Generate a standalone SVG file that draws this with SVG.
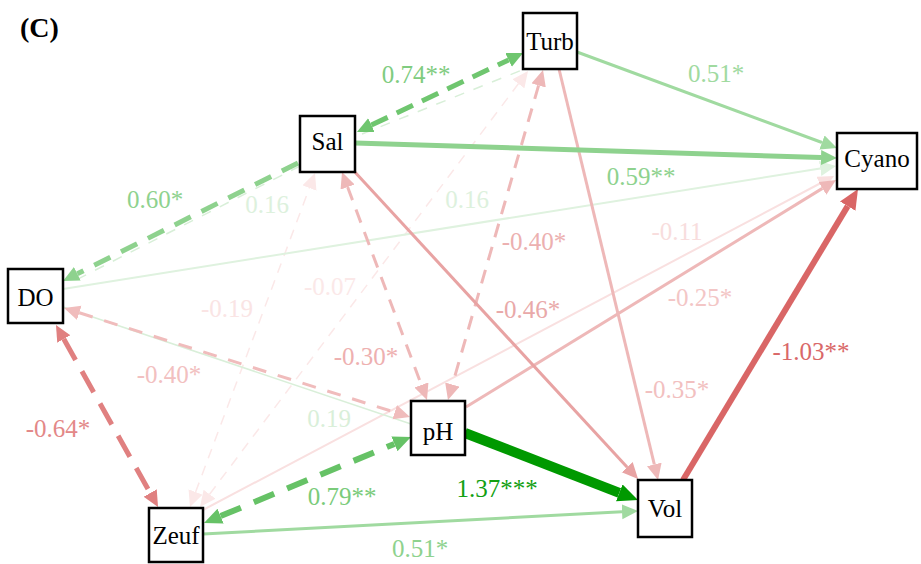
<svg xmlns="http://www.w3.org/2000/svg" width="921" height="564" viewBox="0 0 921 564">
<style>
.node rect{fill:#fff;stroke:#000;stroke-width:2.5}
.node text{font-size:25px;text-anchor:middle;fill:#000}
.lbl{font-size:25px;text-anchor:middle}
.e{fill:none;stroke-linecap:butt}
</style>
<defs>
<marker id="g1" markerUnits="userSpaceOnUse" markerWidth="17" markerHeight="16" refX="0" refY="7.5" orient="auto-start-reverse"><path d="M0,0L16,7.5L0,15z" fill="#6fc66f"/></marker>
<marker id="g2" markerUnits="userSpaceOnUse" markerWidth="17" markerHeight="16" refX="0" refY="7.5" orient="auto-start-reverse"><path d="M0,0L16,7.5L0,15z" fill="#8ed28e"/></marker>
<marker id="g3" markerUnits="userSpaceOnUse" markerWidth="17" markerHeight="16" refX="0" refY="7.5" orient="auto-start-reverse"><path d="M0,0L16,7.5L0,15z" fill="#a0daa0"/></marker>
<marker id="g4" markerUnits="userSpaceOnUse" markerWidth="17" markerHeight="16" refX="0" refY="7.5" orient="auto-start-reverse"><path d="M0,0L16,7.5L0,15z" fill="#dff2df"/></marker>
<marker id="g5" markerUnits="userSpaceOnUse" markerWidth="21" markerHeight="19" refX="0" refY="9" orient="auto-start-reverse"><path d="M0,0L20,9L0,18z" fill="#009900"/></marker>
<marker id="g6" markerUnits="userSpaceOnUse" markerWidth="19" markerHeight="17" refX="0" refY="8" orient="auto-start-reverse"><path d="M0,0L18,8L0,16z" fill="#66c266"/></marker>
<marker id="r1" markerUnits="userSpaceOnUse" markerWidth="21" markerHeight="19" refX="0" refY="9" orient="auto-start-reverse"><path d="M0,0L20,9L0,18z" fill="#d96666"/></marker>
<marker id="r2" markerUnits="userSpaceOnUse" markerWidth="17" markerHeight="16" refX="0" refY="7.5" orient="auto-start-reverse"><path d="M0,0L16,7.5L0,15z" fill="#e08080"/></marker>
<marker id="r3" markerUnits="userSpaceOnUse" markerWidth="17" markerHeight="16" refX="0" refY="7.5" orient="auto-start-reverse"><path d="M0,0L16,7.5L0,15z" fill="#e8a3a3"/></marker>
<marker id="r4" markerUnits="userSpaceOnUse" markerWidth="17" markerHeight="16" refX="0" refY="7.5" orient="auto-start-reverse"><path d="M0,0L16,7.5L0,15z" fill="#eeb8b8"/></marker>
<marker id="r5" markerUnits="userSpaceOnUse" markerWidth="17" markerHeight="16" refX="0" refY="7.5" orient="auto-start-reverse"><path d="M0,0L16,7.5L0,15z" fill="#f0bcbc"/></marker>
<marker id="r6" markerUnits="userSpaceOnUse" markerWidth="17" markerHeight="16" refX="0" refY="7.5" orient="auto-start-reverse"><path d="M0,0L16,7.5L0,15z" fill="#f9e0e0"/></marker>
<marker id="r7" markerUnits="userSpaceOnUse" markerWidth="17" markerHeight="16" refX="0" refY="7.5" orient="auto-start-reverse"><path d="M0,0L16,7.5L0,15z" fill="#fbe8e8"/></marker>
</defs>
<text x="20" y="37" font-family="Liberation Serif" font-size="28" font-weight="bold">(C)</text>
<g id="connectors">
<line class="e" x1="195.6" y1="492" x2="309.4" y2="188" stroke="#fbe8e8" stroke-width="1.5" stroke-dasharray="10 8" marker-start="url(#r7)" marker-end="url(#r7)"/>
<line class="e" x1="209.6" y1="494.2" x2="518.4" y2="83.8" stroke="#fbe8e8" stroke-width="1.5" stroke-dasharray="10 8" marker-start="url(#r7)" marker-end="url(#r7)"/>
<line class="e" x1="203" y1="510" x2="819.9" y2="183.5" stroke="#f9e0e0" stroke-width="2" marker-end="url(#r6)"/>
<line class="e" x1="63" y1="289" x2="820.2" y2="168.5" stroke="#dff2df" stroke-width="2" marker-end="url(#g4)"/>
<line class="e" x1="63" y1="307" x2="411" y2="424" stroke="#d9efd9" stroke-width="1.5"/>
<line class="e" x1="300" y1="166" x2="70" y2="283" stroke="#d8efd8" stroke-width="1.5" stroke-dasharray="10 10"/>
<line class="e" x1="362" y1="134" x2="522" y2="70" stroke="#d8efd8" stroke-width="1.5" stroke-dasharray="10 10"/>
<line class="e" x1="79.3" y1="312.8" x2="394.7" y2="412.2" stroke="#f0bcbc" stroke-width="3" stroke-dasharray="14 12" marker-start="url(#r5)" marker-end="url(#r5)"/>
<line class="e" x1="347.6" y1="187" x2="421.4" y2="385" stroke="#eeb8b8" stroke-width="3" stroke-dasharray="14 10" marker-start="url(#r4)" marker-end="url(#r4)"/>
<line class="e" x1="538.6" y1="85.4" x2="452.4" y2="384.6" stroke="#eeb8b8" stroke-width="3" stroke-dasharray="14 10" marker-start="url(#r4)" marker-end="url(#r4)"/>
<line class="e" x1="466" y1="407" x2="822.4" y2="188.4" stroke="#eeb8b8" stroke-width="3" marker-end="url(#r4)"/>
<line class="e" x1="559" y1="69" x2="654.3" y2="464.4" stroke="#eeb8b8" stroke-width="3" marker-end="url(#r4)"/>
<line class="e" x1="353" y1="170" x2="627.2" y2="467.2" stroke="#e8a3a3" stroke-width="3" marker-end="url(#r3)"/>
<line class="e" x1="63.8" y1="339" x2="150.2" y2="493" stroke="#e08080" stroke-width="5" stroke-dasharray="24 13" marker-start="url(#r2)" marker-end="url(#r2)"/>
<line class="e" x1="683" y1="480" x2="847.7" y2="206.1" stroke="#d96666" stroke-width="6" marker-end="url(#r1)"/>
<line class="e" x1="577" y1="52" x2="822" y2="142.5" stroke="#a0daa0" stroke-width="3" marker-end="url(#g3)"/>
<line class="e" x1="203" y1="534" x2="622" y2="511.8" stroke="#a0daa0" stroke-width="3" marker-end="url(#g3)"/>
<line class="e" x1="355" y1="143" x2="821" y2="157.5" stroke="#8ed28e" stroke-width="5" marker-end="url(#g2)"/>
<line class="e" x1="298" y1="163" x2="77.3" y2="273.8" stroke="#8ed28e" stroke-width="5" stroke-dasharray="18 12" marker-end="url(#g2)"/>
<line class="e" x1="371.4" y1="125.1" x2="508.6" y2="59.9" stroke="#6fc66f" stroke-width="5" stroke-dasharray="18 10" marker-start="url(#g1)" marker-end="url(#g1)"/>
<line class="e" x1="220.6" y1="516.1" x2="394.4" y2="443.9" stroke="#66c266" stroke-width="6" stroke-dasharray="22 14" marker-start="url(#g6)" marker-end="url(#g6)"/>
<line class="e" x1="465" y1="433" x2="619.3" y2="492.8" stroke="#009900" stroke-width="10" marker-end="url(#g5)"/>
</g>
<g id="labels">
<text class="lbl" font-family="Liberation Serif" x="416" y="83" fill="#80cc80">0.74**</text>
<text class="lbl" font-family="Liberation Serif" x="716" y="82" fill="#a0daa0">0.51*</text>
<text class="lbl" font-family="Liberation Serif" x="641" y="185" fill="#8ed28e">0.59**</text>
<text class="lbl" font-family="Liberation Serif" x="155" y="208" fill="#8ed28e">0.60*</text>
<text class="lbl" font-family="Liberation Serif" x="267" y="213" fill="#ddf1dd">0.16</text>
<text class="lbl" font-family="Liberation Serif" x="467" y="208" fill="#ddf1dd">0.16</text>
<text class="lbl" font-family="Liberation Serif" x="534" y="250" fill="#ecb0b0">-0.40*</text>
<text class="lbl" font-family="Liberation Serif" x="677" y="240" fill="#f8dddd">-0.11</text>
<text class="lbl" font-family="Liberation Serif" x="700" y="306" fill="#f3c6c6">-0.25*</text>
<text class="lbl" font-family="Liberation Serif" x="528" y="318" fill="#e9a9a9">-0.46*</text>
<text class="lbl" font-family="Liberation Serif" x="330" y="295" fill="#fbe8e8">-0.07</text>
<text class="lbl" font-family="Liberation Serif" x="227" y="317" fill="#fae4e4">-0.19</text>
<text class="lbl" font-family="Liberation Serif" x="366" y="365" fill="#eeb0b0">-0.30*</text>
<text class="lbl" font-family="Liberation Serif" x="169" y="383" fill="#f2c0c0">-0.40*</text>
<text class="lbl" font-family="Liberation Serif" x="677" y="398" fill="#f2c0c0">-0.35*</text>
<text class="lbl" font-family="Liberation Serif" x="811" y="360" fill="#d96868">-1.03**</text>
<text class="lbl" font-family="Liberation Serif" x="329" y="427" fill="#d9efd9">0.19</text>
<text class="lbl" font-family="Liberation Serif" x="58" y="437" fill="#e38888">-0.64*</text>
<text class="lbl" font-family="Liberation Serif" x="342" y="505" fill="#7acb7a">0.79**</text>
<text class="lbl" font-family="Liberation Serif" x="497" y="497" fill="#12a012">1.37***</text>
<text class="lbl" font-family="Liberation Serif" x="420" y="557" fill="#8ed28e">0.51*</text>
</g>
<g id="nodes">
<g id="Turb" class="node"><rect x="523" y="13" width="54" height="56"/><text font-family="Liberation Serif" x="550" y="50">Turb</text></g>
<g id="Sal" class="node"><rect x="300" y="116" width="55" height="56"/><text font-family="Liberation Serif" x="327.5" y="150">Sal</text></g>
<g id="Cyano" class="node"><rect x="837" y="133" width="80" height="56"/><text font-family="Liberation Serif" x="877" y="167">Cyano</text></g>
<g id="DO" class="node"><rect x="8" y="269" width="55" height="54"/><text font-family="Liberation Serif" x="35.5" y="306">DO</text></g>
<g id="Zeuf" class="node"><rect x="149" y="508" width="54" height="54"/><text font-family="Liberation Serif" x="176" y="544">Zeuf</text></g>
<g id="pH" class="node"><rect x="411" y="401" width="54" height="54"/><text font-family="Liberation Serif" x="438" y="440">pH</text></g>
<g id="Vol" class="node"><rect x="638" y="480" width="54" height="57"/><text font-family="Liberation Serif" x="665" y="517">Vol</text></g>
</g>
</svg>
